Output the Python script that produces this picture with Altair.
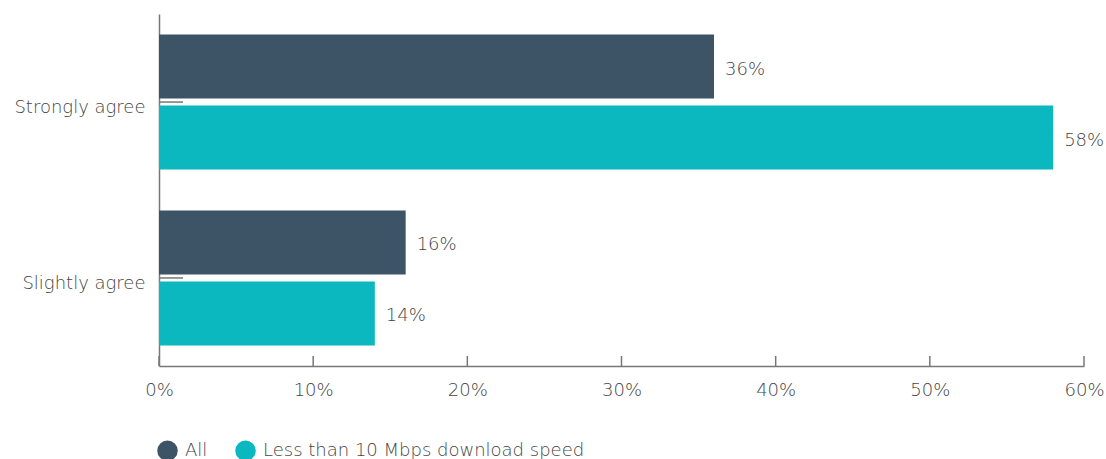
import altair as alt
import pandas as pd

categories = ["Strongly agree", "Slightly agree"]
series = ["All", "Less than 10 Mbps download speed"]
all_values = [36, 16]
slow_values = [58, 14]
x_ticks = [0, 10, 20, 30, 40, 50, 60]
colors = ["#3d5467", "#0bb8bf"]

rows = []
for c, a, s in zip(categories, all_values, slow_values):
    rows.append({"cat": c, "series": series[0], "val": a})
    rows.append({"cat": c, "series": series[1], "val": s})
df = pd.DataFrame(rows)
df["label"] = df["val"].astype(str) + "%"

W, H = 925, 352
FONT = "DejaVu Sans"
TXT = "#444444"
FW = 200
FS = 18

yscale = alt.Scale(domain=categories, paddingInner=0.233, paddingOuter=0.117)
xscale = alt.Scale(domain=[0, 60], nice=False)

base = alt.Chart(df)

bars = base.mark_bar().encode(
    x=alt.X("val:Q", scale=xscale,
            axis=alt.Axis(values=x_ticks, labelExpr="datum.value + '%'", title=None,
                          grid=False, ticks=False, domainColor="#777", domainWidth=1.5,
                          labelFont=FONT, labelFontSize=FS, labelColor=TXT,
                          labelPadding=15, labelFontWeight=FW, labelFlush=False)),
    y=alt.Y("cat:N", scale=yscale, sort=categories,
            axis=alt.Axis(title=None, ticks=False, domainColor="#777", domainWidth=1.5,
                          labelFont=FONT, labelFontSize=FS, labelColor=TXT,
                          labelPadding=14, labelOffset=6, labelFontWeight=FW)),
    yOffset=alt.YOffset("series:N", sort=series, scale=alt.Scale(paddingInner=0.1)),
    color=alt.Color("series:N", sort=series, scale=alt.Scale(domain=series, range=colors),
                    legend=alt.Legend(title=None, orient="none", direction="horizontal",
                                      legendX=-2, legendY=426, symbolType="circle",
                                      symbolSize=420, symbolStrokeWidth=0,
                                      labelFont=FONT, labelFontSize=FS, labelColor=TXT,
                                      labelFontWeight=FW, columnPadding=27, labelOffset=7,
                                      labelLimit=500)),
)

texts = base.mark_text(align="left", baseline="middle", dx=11, dy=3, font=FONT,
                       fontSize=FS, color=TXT, fontWeight=FW).encode(
    x=alt.X("val:Q", scale=xscale),
    y=alt.Y("cat:N", scale=yscale, sort=categories),
    yOffset=alt.YOffset("series:N", sort=series, scale=alt.Scale(paddingInner=0.1)),
    text="label:N",
)

tick_df = pd.DataFrame({"t": x_ticks})
xticks = alt.Chart(tick_df).mark_rule(color="#777", strokeWidth=1.5).encode(
    x=alt.X("t:Q", scale=xscale),
    y=alt.value(H - 10),
    y2=alt.value(H),
)

cat_df = pd.DataFrame({"cat": categories})
yticks = alt.Chart(cat_df).mark_rule(color="#777", strokeWidth=1.5).encode(
    y=alt.Y("cat:N", scale=yscale, sort=categories),
    x=alt.value(0),
    x2=alt.value(24),
)

chart = alt.layer(bars, texts, xticks, yticks).properties(
    width=W, height=H,
    autosize=alt.AutoSizeParams(type="none"),
    padding={"left": 159, "top": 14, "right": 22, "bottom": 93},
).configure(font=FONT).configure_view(strokeWidth=0, stroke="transparent")

chart.save("out.html", embed_options={"renderer": "svg", "actions": False})
